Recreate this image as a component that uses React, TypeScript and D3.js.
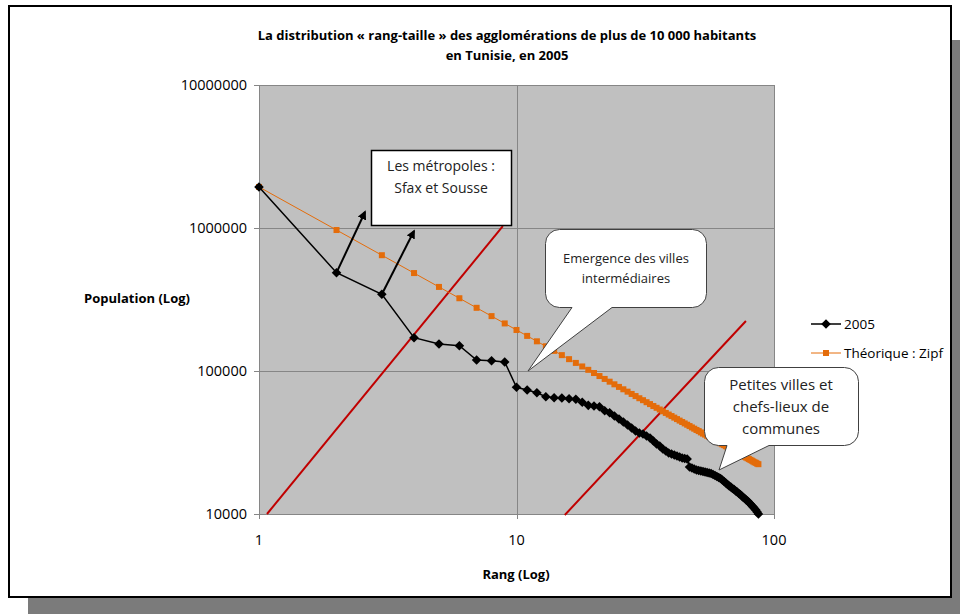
import { useEffect, useRef } from "react"
import * as d3 from "d3"

// Population by rank (2005)
const pop2005 = [
  1936000, 487000, 344000, 171000, 154600, 150300, 119400, 118000, 115600, 76900,
  73600, 70500, 66100, 65000, 64700, 64000, 63400, 60400, 57500, 56900,
  56300, 52700, 51100, 48450, 46170, 44000, 41920, 39940, 38050, 36850,
  36260, 35120, 34010, 32410, 30870, 29890, 28480, 27580, 26710, 26280,
  25860, 25440, 25040, 24640, 24440, 24240, 21320, 20980, 20640, 20310,
  20150, 19980, 19820, 19660, 19500, 19350, 19190, 18880, 18580, 18290,
  17990, 17710, 17290, 16880, 16470, 16080, 15690, 15450, 15080, 14840,
  14480, 14250, 13910, 13690, 13360, 13040, 12830, 12530, 12330, 12030,
  11750, 11470, 11190, 10930, 10660, 10330, 10000,
]

// Theoretical Zipf values by rank
const zipf = [
  1936000, 968000, 645300, 484000, 387200, 322700, 276600, 242000, 215100, 193600,
  176000, 161300, 148900, 138300, 129100, 121000, 113900, 107600, 101900, 96800,
  92200, 88000, 84200, 80700, 77400, 74500, 71700, 69100, 66800, 64500,
  62500, 60500, 58700, 56900, 55300, 53800, 52300, 50900, 49600, 48400,
  47200, 46100, 45000, 44000, 43000, 42100, 41200, 40300, 39500, 38700,
  38000, 37200, 36500, 35900, 35200, 34600, 34000, 33400, 32800, 32300,
  31700, 31200, 30700, 30300, 29800, 29300, 28900, 28500, 28100, 27700,
  27300, 26900, 26500, 26200, 25800, 25500, 25100, 24800, 24500, 24200,
  23900, 23600, 23300, 23000, 22800, 22500, 22300,
]

const xTicks = [1, 10, 100]
const yTicks = [10000, 100000, 1000000, 10000000]

const seriesNames = ["2005", "Théorique : Zipf"]

const titleLines = [
  "La distribution « rang-taille » des agglomérations de plus de 10 000 habitants",
  "en Tunisie, en 2005",
]

// red reference lines, in data coordinates [rank, population]
const redLines: [number, number][][] = [
  [[1.074, 10000], [8.85, 1030000]],
  [[15.4, 9840], [77.8, 223700]],
]

const FONT = "'Open Sans', 'Noto Sans', sans-serif"

function calloutPath(
  x: number, y: number, w: number, h: number, r: number,
  b1: number, b2: number, tx: number, ty: number,
) {
  const p = d3.path()
  p.moveTo(x + r, y)
  p.lineTo(x + w - r, y)
  p.arcTo(x + w, y, x + w, y + r, r)
  p.lineTo(x + w, y + h - r)
  p.arcTo(x + w, y + h, x + w - r, y + h, r)
  p.lineTo(b2, y + h)
  p.lineTo(tx, ty)
  p.lineTo(b1, y + h)
  p.lineTo(x + r, y + h)
  p.arcTo(x, y + h, x, y + h - r, r)
  p.lineTo(x, y + r)
  p.arcTo(x, y, x + r, y, r)
  p.closePath()
  return p.toString()
}

export default function App() {
  const svgRef = useRef<SVGSVGElement>(null)

  useEffect(() => {
    const svg = d3.select(svgRef.current)
    svg.selectAll("*").remove()

    const W = 960
    const H = 614
    const plot = { left: 259, right: 774, top: 85, bottom: 514 }

    const x = d3.scaleLog().domain([1, 100]).range([plot.left, plot.right])
    const y = d3.scaleLog().domain([10000, 10000000]).range([plot.bottom, plot.top])

    // arrow marker
    const defs = svg.append("defs")
    defs.append("marker")
      .attr("id", "arrowHead")
      .attr("viewBox", "0 0 10 10")
      .attr("refX", 8)
      .attr("refY", 5)
      .attr("markerWidth", 4.5)
      .attr("markerHeight", 4.5)
      .attr("orient", "auto")
      .append("path")
      .attr("d", "M0,0 L10,5 L0,10 z")
      .attr("fill", "#000")

    // frame + shadow
    svg.append("rect").attr("x", 28).attr("y", 40).attr("width", W - 28).attr("height", H - 40).attr("fill", "#7b7b7b")
    svg.append("rect").attr("x", 9).attr("y", 6).attr("width", 942).attr("height", 591)
      .attr("fill", "#fff").attr("stroke", "#000").attr("stroke-width", 2)

    // title
    svg.append("g").selectAll("text").data(titleLines).join("text")
      .attr("x", 507)
      .attr("y", (_, i) => 40 + i * 20)
      .attr("text-anchor", "middle")
      .attr("font-family", FONT)
      .attr("font-weight", "bold")
      .attr("font-size", 13)
      .attr("fill", "#000")
      .text((d) => d)

    // plot background
    svg.append("rect")
      .attr("x", plot.left).attr("y", plot.top)
      .attr("width", plot.right - plot.left).attr("height", plot.bottom - plot.top)
      .attr("fill", "#c0c0c0")

    // grid
    const grid = svg.append("g").attr("stroke", "#868686").attr("stroke-width", 1)
    grid.selectAll("line.gx").data(xTicks).join("line").attr("class", "gx")
      .attr("x1", (d) => Math.round(x(d)) + 0.5).attr("x2", (d) => Math.round(x(d)) + 0.5)
      .attr("y1", plot.top).attr("y2", plot.bottom + 5)
    grid.selectAll("line.gy").data(yTicks).join("line").attr("class", "gy")
      .attr("x1", plot.left - 5).attr("x2", plot.right)
      .attr("y1", (d) => Math.round(y(d)) + 0.5).attr("y2", (d) => Math.round(y(d)) + 0.5)

    // tick labels
    svg.append("g").selectAll("text").data(yTicks).join("text")
      .attr("x", plot.left - 12)
      .attr("y", (d) => y(d) + 5)
      .attr("text-anchor", "end")
      .attr("font-family", FONT)
      .attr("font-size", 14.5)
      .text((d) => String(d))
    svg.append("g").selectAll("text").data(xTicks).join("text")
      .attr("x", (d) => x(d))
      .attr("y", 545)
      .attr("text-anchor", "middle")
      .attr("font-family", FONT)
      .attr("font-size", 14.5)
      .text((d) => String(d))

    // axis titles
    svg.append("text").attr("x", 84).attr("y", 303)
      .attr("font-family", FONT).attr("font-weight", "bold").attr("font-size", 13)
      .text("Population (Log)")
    svg.append("text").attr("x", 516).attr("y", 579).attr("text-anchor", "middle")
      .attr("font-family", FONT).attr("font-weight", "bold").attr("font-size", 13)
      .text("Rang (Log)")

    // red lines
    svg.append("g").selectAll("line").data(redLines).join("line")
      .attr("x1", (d) => x(d[0][0])).attr("y1", (d) => y(d[0][1]))
      .attr("x2", (d) => x(d[1][0])).attr("y2", (d) => y(d[1][1]))
      .attr("stroke", "#c00000").attr("stroke-width", 2)

    const orange = "#e46c0a"
    const lineGen = d3.line<number>().x((_, i) => x(i + 1)).y((d) => y(d))

    // Zipf series
    svg.append("path").datum(zipf).attr("d", lineGen)
      .attr("fill", "none").attr("stroke", orange).attr("stroke-width", 1)
    svg.append("g").selectAll("rect").data(zipf).join("rect")
      .attr("x", (_, i) => x(i + 1) - 3).attr("y", (d) => y(d) - 3)
      .attr("width", 6).attr("height", 6).attr("fill", orange)

    // 2005 series
    svg.append("path").datum(pop2005).attr("d", lineGen)
      .attr("fill", "none").attr("stroke", "#000").attr("stroke-width", 1.5)
    const diamond = d3.symbol(d3.symbolSquare, 46)()
    svg.append("g").selectAll("path").data(pop2005).join("path")
      .attr("transform", (d, i) => `translate(${x(i + 1)},${y(d)}) rotate(45)`)
      .attr("d", diamond)
      .attr("fill", "#000")

    // arrows from Sfax and Sousse
    const arrowTips: [number, number][] = [[365, 212], [414, 231]]
    svg.append("g").selectAll("line").data(arrowTips).join("line")
      .attr("x1", (_, i) => x(i + 2)).attr("y1", (_, i) => y(pop2005[i + 1]))
      .attr("x2", (d) => d[0]).attr("y2", (d) => d[1])
      .attr("stroke", "#000").attr("stroke-width", 2)
      .attr("marker-end", "url(#arrowHead)")

    // box: metropoles
    svg.append("rect").attr("x", 371.5).attr("y", 150.5).attr("width", 140).attr("height", 75)
      .attr("fill", "#fff").attr("stroke", "#000").attr("stroke-width", 1.5)
    svg.append("g").selectAll("text").data(["Les métropoles :", "Sfax et Sousse"]).join("text")
      .attr("x", 441).attr("y", (_, i) => 171 + i * 22)
      .attr("text-anchor", "middle").attr("font-family", FONT).attr("font-size", 14).attr("fill", "#222")
      .text((d) => d)

    // callout: intermediate cities
    svg.append("path").attr("d", calloutPath(545.5, 229.5, 161, 78, 14, 572, 612, 528, 371))
      .attr("fill", "#fff").attr("stroke", "#404040").attr("stroke-width", 1)
    svg.append("g").selectAll("text").data(["Emergence des villes", "intermédiaires"]).join("text")
      .attr("x", 626).attr("y", (_, i) => 263 + i * 20)
      .attr("text-anchor", "middle").attr("font-family", FONT).attr("font-size", 13).attr("fill", "#222")
      .text((d) => d)

    // callout: small towns
    svg.append("path").attr("d", calloutPath(704.5, 367.5, 154, 78, 14, 727, 769, 719, 470))
      .attr("fill", "#fff").attr("stroke", "#404040").attr("stroke-width", 1)
    svg.append("g").selectAll("text").data(["Petites villes et", "chefs-lieux de", "communes"]).join("text")
      .attr("x", 781).attr("y", (_, i) => 390 + i * 22)
      .attr("text-anchor", "middle").attr("font-family", FONT).attr("font-size", 15).attr("fill", "#222")
      .text((d) => d)

    // legend
    const legend = svg.append("g").attr("transform", "translate(811,324)")
    seriesNames.forEach((name, i) => {
      const g = legend.append("g").attr("transform", `translate(0,${i * 29})`)
      const c = i === 0 ? "#000" : orange
      g.append("line").attr("x1", 0).attr("x2", 30).attr("y1", 0).attr("y2", 0)
        .attr("stroke", c).attr("stroke-width", i === 0 ? 1.5 : 1)
      if (i === 0) {
        g.append("path").attr("transform", "translate(15,0) rotate(45)")
          .attr("d", diamond).attr("fill", c)
      } else {
        g.append("rect").attr("x", 12).attr("y", -3).attr("width", 6).attr("height", 6).attr("fill", c)
      }
      g.append("text").attr("x", 33).attr("y", 5)
        .attr("font-family", FONT).attr("font-size", 13.5).attr("fill", "#000")
        .text(name)
    })
  }, [])

  return (
    <svg
      ref={svgRef}
      width={960}
      height={614}
      style={{ position: "absolute", left: 0, top: 0, display: "block" }}
    />
  )
}
